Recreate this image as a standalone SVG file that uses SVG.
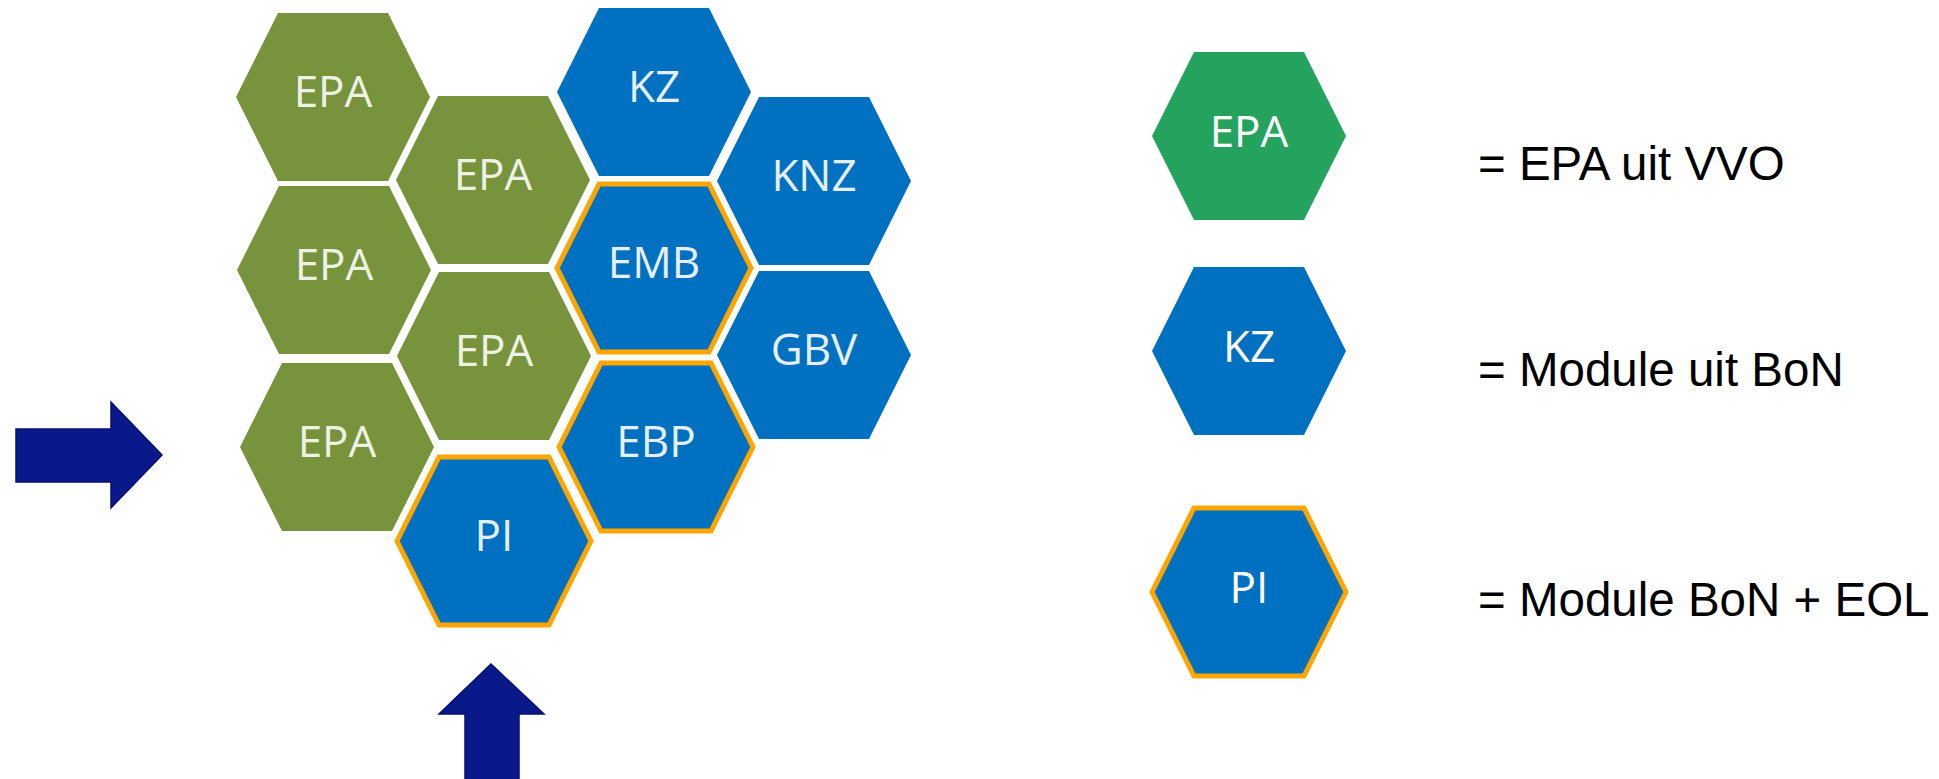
<svg xmlns="http://www.w3.org/2000/svg" width="1939" height="779" viewBox="0 0 1939 779">
<style>
.g{fill:#77933C}
.b{fill:#0070C0}
.o{stroke:#FFA500;stroke-width:5;stroke-linejoin:miter}
.lg{fill:#24A35E}
.t{font-family:"Open Sans","DejaVu Sans",sans-serif;font-size:44px;text-anchor:middle}
.tg{fill:#EDF2E4}
.tb{fill:#E4EFF9}
.tw{fill:#FFFFFF}
.leg{font-family:"Liberation Sans",Arial,sans-serif;font-size:47.5px;fill:#000}
.arr{fill:#0A198A;stroke:#061170;stroke-width:1.5}
</style>
<defs>
<path id="hx" d="M-97,0 L-55,-84 L55,-84 L97,0 L55,84 L-55,84 Z"/>
</defs>
<g id="epa1"><use href="#hx" x="333" y="97" class="g"/><text class="t tg" x="333" y="107">EPA</text></g>
<g id="epa2"><use href="#hx" x="334" y="270" class="g"/><text class="t tg" x="334" y="280">EPA</text></g>
<g id="epa3"><use href="#hx" x="337" y="447" class="g"/><text class="t tg" x="337" y="457">EPA</text></g>
<g id="epa4"><use href="#hx" x="493" y="180" class="g"/><text class="t tg" x="493" y="190">EPA</text></g>
<g id="epa5"><use href="#hx" x="494" y="356" class="g"/><text class="t tg" x="494" y="366">EPA</text></g>
<g id="pi"><use href="#hx" x="494" y="541" class="b o"/><text class="t tb" x="494" y="551">PI</text></g>
<g id="kz"><use href="#hx" x="654" y="92" class="b"/><text class="t tb" x="654" y="102">KZ</text></g>
<g id="emb"><use href="#hx" x="654" y="268" class="b o"/><text class="t tb" x="654" y="278">EMB</text></g>
<g id="ebp"><use href="#hx" x="656" y="447" class="b o"/><text class="t tb" x="656" y="457">EBP</text></g>
<g id="knz"><use href="#hx" x="814" y="181" class="b"/><text class="t tb" x="814" y="191">KNZ</text></g>
<g id="gbv"><use href="#hx" x="814" y="355" class="b"/><text class="t tb" x="814" y="365">GBV</text></g>
<g id="legend-epa"><use href="#hx" x="1249" y="136" class="lg"/><text class="t tw" x="1249" y="147">EPA</text></g>
<g id="legend-kz"><use href="#hx" x="1249" y="351" class="b"/><text class="t tw" x="1249" y="362">KZ</text></g>
<g id="legend-pi"><use href="#hx" x="1249" y="592" class="b o"/><text class="t tw" x="1249" y="603">PI</text></g>
<g id="legend-text">
<text class="leg" x="1478" y="180">= EPA uit VVO</text>
<text class="leg" x="1478" y="386">= Module uit BoN</text>
<text class="leg" x="1478" y="616">= Module BoN + EOL</text>
</g>
<g id="connectors">
<path class="arr" d="M16,429 L111,429 L111,402 L162,455 L111,508 L111,482 L16,482 Z"/>
<path class="arr" d="M491,664 L544,714 L519,714 L519,780 L465,780 L465,714 L439,714 Z"/>
</g>
</svg>
